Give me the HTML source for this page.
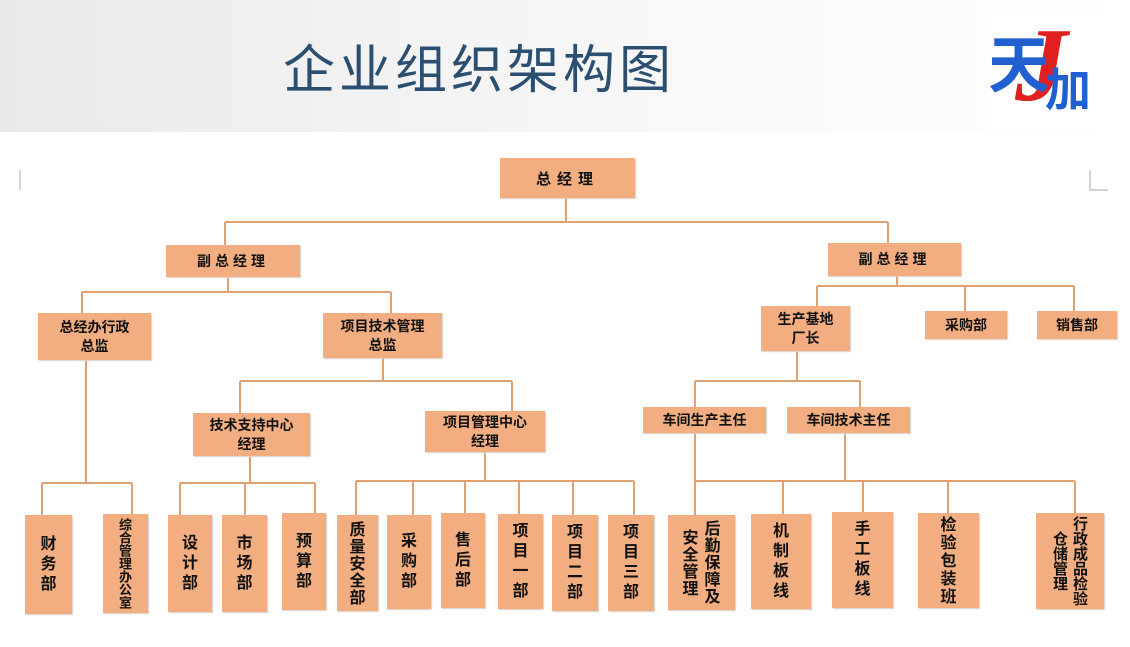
<!DOCTYPE html>
<html><head><meta charset="utf-8"><style>
body{margin:0;width:1130px;height:647px;position:relative;overflow:hidden;background:#fff;font-family:"Liberation Sans","Noto Sans CJK SC",sans-serif}
.hdr{position:absolute;left:0;top:0;width:1130px;height:132px;background:linear-gradient(90deg,#e9e9e9 0%,#f4f4f4 40%,#fafafa 70%,#fff 100%)}
.title{position:absolute;left:283px;top:28px;font-size:52px;color:#2b4f70;letter-spacing:4px;font-family:"Noto Sans CJK SC",sans-serif;white-space:nowrap}
.b{position:absolute;background:#f2ae80;box-shadow:1px 1px 1px #d9d0c8;display:flex;align-items:center;justify-content:center;text-align:center;font-weight:bold;font-size:14px;color:#111;line-height:19px;font-family:"Noto Sans CJK SC",sans-serif;white-space:nowrap}
.v{writing-mode:vertical-rl;font-size:16px;line-height:22px;letter-spacing:4px}
svg{position:absolute;left:0;top:0}
</style></head><body>
<div class="hdr"></div>
<div class="title">企业组织架构图</div>
<div style="position:absolute;left:985px;top:15px;width:130px;height:115px;background:#fff"></div>
<div style="position:absolute;left:1015px;top:5px;font-size:105px;line-height:120px;color:#e02020;font-family:'Liberation Serif',serif;font-style:italic;font-weight:bold">J</div>
<div style="position:absolute;left:988px;top:25px;font-size:62px;line-height:70px;color:#2060d0;font-weight:bold;font-family:'Noto Sans CJK SC',sans-serif">天</div>
<div style="position:absolute;left:1045px;top:62px;font-size:46px;line-height:50px;color:#2060d0;font-weight:bold;font-family:'Noto Sans CJK SC',sans-serif">加</div>
<svg width="1130" height="647" stroke="#e0a070" stroke-width="2" fill="none">
<path d="M566 198V222M225 222H888M225 222V245M888 222V243"/>
<path d="M228 277V292M82 292H391M82 292V313M391 292V313"/>
<path d="M86 360V483M42 483H132M42 483V515M132 483V514"/>
<path d="M383 358V381M240 381H512M240 381V413M512 381V411"/>
<path d="M250 456V483M180 483H315M180 483V515M245 483V515M315 483V513"/>
<path d="M485 452V481M356 481H634M356 481V515M413 481V515M465 481V513M519 481V514M573 481V515M634 481V515"/>
<path d="M897 276V286M817 286H1074M817 286V306M965 286V311M1074 286V311"/>
<path d="M797 351V381M695 381H860M695 381V407M860 381V407"/>
<path d="M695 433V481M845 433V481M695 481H1075M695 481V515M783 481V515M863 481V515M948 481V515M1075 481V515"/>
<path d="M20 170V190M1090 170V190H1108" stroke="#aaa" stroke-width="1"/>
</svg>
<div class="b" style="left:500px;top:158px;width:135px;height:40px;letter-spacing:6px;font-size:15px">总经理</div>
<div class="b" style="left:166px;top:245px;width:134px;height:32px;letter-spacing:4px">副总经理</div>
<div class="b" style="left:828px;top:243px;width:133px;height:33px;letter-spacing:4px">副总经理</div>
<div class="b" style="left:38px;top:313px;width:113px;height:47px">总经办行政<br>总监</div>
<div class="b" style="left:323px;top:313px;width:119px;height:45px">项目技术管理<br>总监</div>
<div class="b" style="left:761px;top:306px;width:89px;height:45px">生产基地<br>厂长</div>
<div class="b" style="left:925px;top:311px;width:82px;height:28px">采购部</div>
<div class="b" style="left:1037px;top:311px;width:80px;height:28px">销售部</div>
<div class="b" style="left:193px;top:413px;width:117px;height:43px">技术支持中心<br>经理</div>
<div class="b" style="left:425px;top:411px;width:120px;height:41px">项目管理中心<br>经理</div>
<div class="b" style="left:643px;top:407px;width:123px;height:26px">车间生产主任</div>
<div class="b" style="left:787px;top:407px;width:123px;height:26px">车间技术主任</div>
<div class="b v" style="left:25px;top:515px;width:47px;height:99px">财务部</div>
<div class="b v" style="left:103px;top:514px;width:45px;height:99px;font-size:13px;line-height:15px;letter-spacing:0">综合管理办公室</div>
<div class="b v" style="left:168px;top:515px;width:44px;height:97px">设计部</div>
<div class="b v" style="left:222px;top:515px;width:45px;height:97px">市场部</div>
<div class="b v" style="left:282px;top:513px;width:44px;height:97px">预算部</div>
<div class="b v" style="left:337px;top:515px;width:41px;height:96px;letter-spacing:1px">质量安全部</div>
<div class="b v" style="left:387px;top:515px;width:44px;height:94px">采购部</div>
<div class="b v" style="left:441px;top:513px;width:44px;height:95px">售后部</div>
<div class="b v" style="left:498px;top:514px;width:45px;height:95px">项目一部</div>
<div class="b v" style="left:552px;top:515px;width:46px;height:96px">项目二部</div>
<div class="b v" style="left:608px;top:515px;width:46px;height:96px">项目三部</div>
<div class="b v" style="left:668px;top:515px;width:67px;height:95px;letter-spacing:1px">后勤保障及<br>安全管理</div>
<div class="b v" style="left:751px;top:514px;width:60px;height:95px">机制板线</div>
<div class="b v" style="left:832px;top:512px;width:61px;height:96px">手工板线</div>
<div class="b v" style="left:918px;top:513px;width:61px;height:95px;letter-spacing:2px">检验包装班</div>
<div class="b v" style="left:1036px;top:513px;width:68px;height:96px;font-size:15px;line-height:20px;letter-spacing:0">行政成品检验<br>仓储管理</div>
</body></html>
